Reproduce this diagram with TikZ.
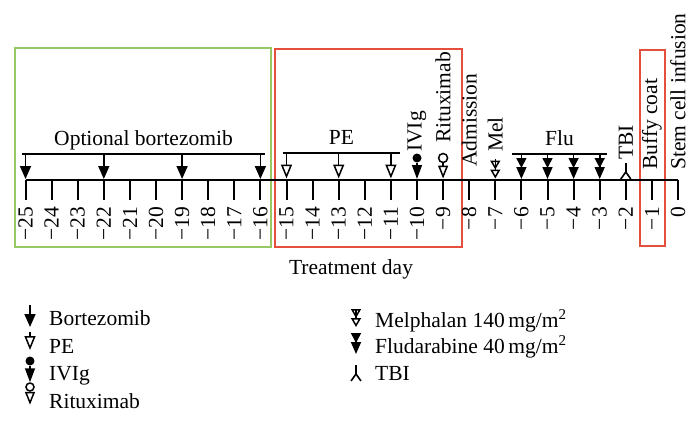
\documentclass[tikz,border=0pt]{standalone}
\usepackage{fontspec}
\setmainfont{Liberation Serif}
\usetikzlibrary{positioning}
\usetikzlibrary{calc}
\usetikzlibrary{arrows.meta}
\definecolor{optgreen}{RGB}{150,200,100}
\definecolor{hospred}{RGB}{228,80,60}
\tikzset{
  timeaxis/.style   = { line width=2pt },
  daytick/.style    = { line width=2pt },
  daynum/.style     = { rotate=90, anchor=east, inner sep=0pt },
  event/.style      = { rotate=90, anchor=west, inner sep=0pt },
  phaseline/.style  = { line width=2pt },
  phasename/.style  = { anchor=base, yshift=8pt, inner sep=0pt },
  legendtext/.style = { anchor=base west, inner sep=0pt },
  markdot/.style    = { circle, minimum size=9pt, inner sep=0pt, line width=1.5pt },
  optbox/.style     = { draw=optgreen, line width=1.5pt },
  hospbox/.style    = { draw=hospred, line width=1.5pt }
}
\tikzset{
  bortarrow/.style  = { line width=1.6pt, -{Triangle[width=11pt,length=13pt]} },
  pearrow/.style    = { line width=1.5pt, -{Triangle[open,width=11pt,length=14pt]} },
  ivigarrow/.style  = { line width=1.5pt, -{Triangle[width=10pt,length=14pt]} },
  rituxarrow/.style = { line width=1.5pt, -{Triangle[open,width=10pt,length=13pt]} },
  melarrow/.style   = { line width=1.5pt,
                        -{Triangle[open,width=10pt,length=9pt,sep=0pt]Triangle[open,width=10pt,length=9pt]} },
  fluarrow/.style   = { line width=1.6pt,
                        -{Triangle[width=10pt,length=10pt,sep=-1pt]Triangle[width=10pt,length=12pt]} },
  tbiline/.style    = { line width=1.6pt }
}

\begin{document}
\begin{tikzpicture}[
  x=1pt,y=-1pt,
  font=\fontsize{21.5}{26}\selectfont
]
  \useasboundingbox (0,0) rectangle (697,428);

  \draw [optbox]  (15,48)  rectangle (271,247);
  \draw [hospbox] (275,49) rectangle (462,247);
  \draw [hospbox] (640,50) rectangle (665,246);

  \foreach \n in {-25,...,0}
    \coordinate (d\n) at ({678+26.1*\n},180);

  \draw [timeaxis] (d-25) -- (d0);
  \foreach \n in {-25,...,0} {
    \draw [daytick] (d\n) -- ++(0,20);
    \node (n\n) [daynum] at ($(d\n)+(0,27)$) {\ifnum\n<0 −\number-\n\else 0\fi};
  }

  \node (tday) [anchor=base] at (351,274) {Treatment day};

  \coordinate (bz1)  at (22,154);
  \coordinate (bz2)  at (265,154);
  \coordinate (pe1)  at (283,153);
  \coordinate (pe2)  at (400,153);
  \coordinate (flu1) at (512,154);
  \coordinate (flu2) at (607,154);

  \draw [phaseline] (bz1)  -- (bz2)  node (bzname)  [midway,phasename] {Optional bortezomib};
  \draw [phaseline] (pe1)  -- (pe2)  node (pename)  [midway,phasename] {PE};
  \draw [phaseline] (flu1) -- (flu2) node (fluname) [midway,phasename] {Flu};

  \foreach \n in {-25,-22,-19,-16}
    \draw [bortarrow,shorten >=1pt] (d\n |- bz1) -- (d\n);
  \foreach \n in {-15,-13,-11}
    \draw [pearrow,shorten >=1.5pt] (d\n |- pe1) -- (d\n);
  \foreach \n in {-6,...,-3}
    \draw [fluarrow,shorten >=1pt] (d\n |- flu1) -- (d\n);

  \node (ivigdot)  [markdot,fill=black] at ($(d-10)+(0,-22)$) {};
  \node (rituxdot) [markdot,draw]       at ($(d-9)+(0,-22)$)  {};
  \draw [ivigarrow,shorten >=1pt]    (ivigdot)  -- (d-10);
  \draw [rituxarrow,shorten >=1.5pt] (rituxdot) -- (d-9);

  \coordinate (meltop) at ($(d-7)+(0,-21)$);
  \draw [melarrow,shorten >=1.5pt] (meltop) -- (d-7);

  \coordinate (tbitop) at ($(d-2)+(0,-17)$);
  \draw [tbiline] (tbitop) -- ++(0,9) coordinate (tbifork);
  \draw [tbiline] (tbifork) -- ++(-5,7) (tbifork) -- ++(5,7);

  \node (ivig)  [event] at ($(d-10)+(0,-28)$) {IVIg};
  \node (ritux) [event] at ($(d-9)+(0,-37)$)  {Rituximab};
  \node (adm)   [event] at ($(d-8)+(0,-13)$)  {Admission};
  \node (mel)   [event] at ($(d-7)+(0,-28)$)  {Mel};
  \node (tbi)   [event] at ($(d-2)+(0,-20)$)  {TBI};
  \node (buffy) [event] at ($(d-1)+(0,-10)$)  {Buffy coat};
  \node (stem)  [event] at ($(d0)+(0,-10)$)   {Stem cell infusion};

  \node (lgbort)  [legendtext] at (49,325)  {Bortezomib};
  \node (lgpe)    [legendtext] at (49,353)  {PE};
  \node (lgivig)  [legendtext] at (49,380)  {IVIg};
  \node (lgritux) [legendtext] at (49,408)  {Rituximab};
  \node (lgmel)   [legendtext] at (375,327) {Melphalan 140\,mg/m\textsuperscript{2}};
  \node (lgflu)   [legendtext] at (375,353) {Fludarabine 40\,mg/m\textsuperscript{2}};
  \node (lgtbi)   [legendtext] at (375,380) {TBI};

  \draw [bortarrow]  ($(lgbort.base west)+(-19,-20)$) -- ++(0,22);
  \draw [pearrow]    ($(lgpe.base west)+(-19,-21)$)   -- ++(0,18);
  \node (lgivigdot)  [markdot,fill=black] at ($(lgivig.base west)+(-19,-19)$) {};
  \draw [ivigarrow]  (lgivigdot.south) -- ++(0,16);
  \node (lgrituxdot) [markdot,draw,minimum size=8pt] at ($(lgritux.base west)+(-19,-21)$) {};
  \draw [rituxarrow] (lgrituxdot.south) -- ++(0,13);
  \draw [melarrow]   ($(lgmel.base west)+(-19,-18)$)  -- ++(0,18);
  \draw [fluarrow]   ($(lgflu.base west)+(-19,-18)$)  -- ++(0,19);
  \draw [tbiline]    ($(lgtbi.base west)+(-19,-15)$)  -- ++(0,9) coordinate (lgtbifork);
  \draw [tbiline]    (lgtbifork) -- ++(-5,7) (lgtbifork) -- ++(5,7);
\end{tikzpicture}
\end{document}
